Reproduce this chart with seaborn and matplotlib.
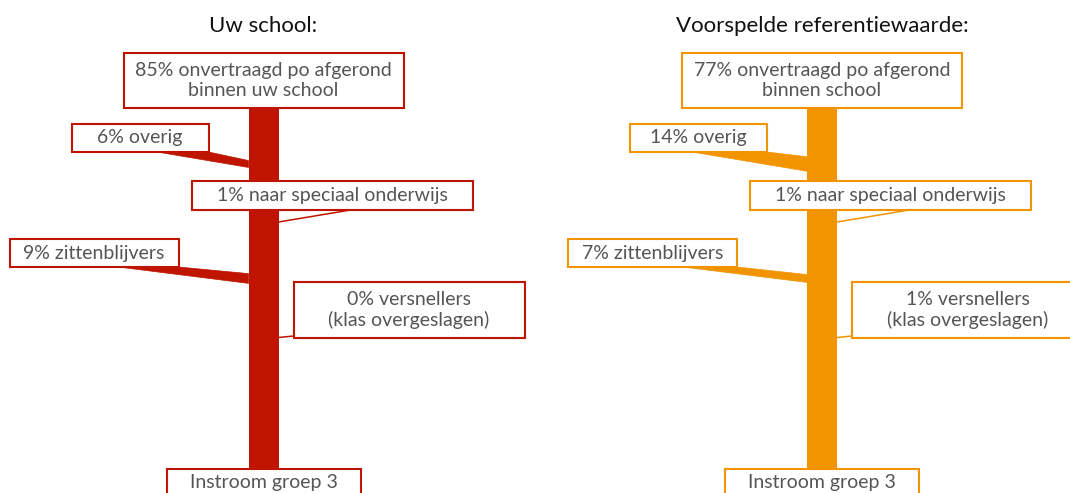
import matplotlib.pyplot as plt
from matplotlib.patches import Rectangle, Polygon
import seaborn as sns

sns.set_theme(style="white")
plt.rcParams['font.family'] = ['Lato', 'DejaVu Sans']

# data
panel_titles = ["Uw school:", "Voorspelde referentiewaarde:"]
panel_colors = ["#BE1400", "#F29400"]
pct_onvertraagd = [85, 77]
pct_overig = [6, 14]
pct_speciaal = [1, 1]
pct_zitten = [9, 7]
pct_versnellers = [0, 1]
top_second_line = ["binnen uw school", "binnen school"]
start_label = "Instroom groep 3"

TEXT = "#555555"
centers = [263.5, 822]
half = 15  # half trunk width (px)


def box(ax, x0, x1, y0, y1, text, color):
    ax.add_patch(Rectangle((x0, y0), x1 - x0, y1 - y0, fill=True, facecolor="white",
                           edgecolor=color, lw=1.5, zorder=3))
    ax.text((x0 + x1) / 2, (y0 + y1) / 2, text, ha="center", va="center",
            fontsize=14, color=TEXT, linespacing=1.25, zorder=4)


def branch(ax, x_box, y_box, x_trunk, y_mid, pct, side, color):
    w = pct * 0.95 + 1.2
    if w < 3:
        ax.plot([x_box, x_trunk], [y_box, y_mid], color=color, lw=1.1, zorder=2,
                solid_capstyle="butt")
        return
    # side = -1 : branch comes from the left, box right edge at x_box
    start = x_box + side * (30 + 3.1 * w)
    pts = [(x_box, y_box), (x_trunk, y_mid - w / 2), (x_trunk, y_mid + w / 2), (start, y_box)]
    ax.add_patch(Polygon(pts, closed=True, facecolor=color, edgecolor=color, lw=0.5, zorder=2))


fig = plt.figure(figsize=(10.7, 4.93), dpi=100)
ax = fig.add_axes([0, 0, 1, 1])
ax.set_xlim(0, 1070)
ax.set_ylim(493, 0)
ax.axis("off")

for i, cx in enumerate(centers):
    c = panel_colors[i]
    ax.text(cx, 26, panel_titles[i], ha="center", va="center", fontsize=16,
            color="#111111")

    # trunk
    ax.add_patch(Rectangle((cx - half, 108), 2 * half, 469 - 108, facecolor=c,
                           edgecolor="none", zorder=1))

    # branches
    branch(ax, cx - 55, 152, cx - half, 164, pct_overig[i], -1, c)
    branch(ax, cx - 85, 267, cx - half, 278.5, pct_zitten[i], -1, c)
    branch(ax, cx + 87, 210, cx + half, 222, pct_speciaal[i], 1, c)
    branch(ax, cx + 30, 336, cx + half, 337.5, pct_versnellers[i], 1, c)

    # boxes
    box(ax, cx - 140, cx + 140, 53, 108,
        f"{pct_onvertraagd[i]}% onvertraagd po afgerond\n{top_second_line[i]}", c)
    box(ax, cx - 192, cx - 55, 124, 152, f"{pct_overig[i]}% overig", c)
    box(ax, cx - 72, cx + 209, 181, 210, f"{pct_speciaal[i]}% naar speciaal onderwijs", c)
    box(ax, cx - 254, cx - 85, 239, 267, f"{pct_zitten[i]}% zittenblijvers", c)
    box(ax, cx + 30, cx + 261, 282, 338,
        f"{pct_versnellers[i]}% versnellers\n(klas overgeslagen)", c)
    box(ax, cx - 97, cx + 97, 469, 496, start_label, c)

fig.savefig("out.png", dpi=100)
